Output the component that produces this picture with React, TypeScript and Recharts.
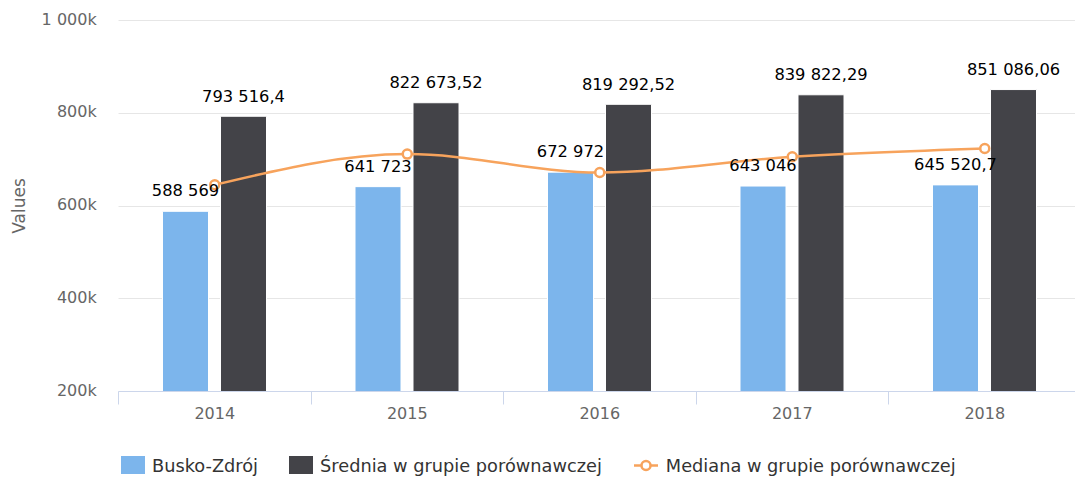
import React from 'react';
import { ComposedChart, Bar, Line, XAxis, YAxis, CartesianGrid, LabelList } from 'recharts';

const years = ['2014', '2015', '2016', '2017', '2018'];
const busko = [588569, 641723, 672972, 643046, 645520.7];
const srednia = [793516.4, 822673.52, 819292.52, 839822.29, 851086.06];
const mediana = [645700, 711900, 672200, 706100, 724000];
const yTicks = [200000, 400000, 600000, 800000, 1000000];

const seriesNames = {
  busko: 'Busko-Zdrój',
  srednia: 'Średnia w grupie porównawczej',
  mediana: 'Mediana w grupie porównawczej',
};

const COLORS = { busko: '#7cb5ec', srednia: '#434348', mediana: '#f7a35c' };

const data = years.map((y, i) => ({ year: y, busko: busko[i], srednia: srednia[i], mediana: mediana[i] }));

const FONT = '"DejaVu Sans", Verdana, sans-serif';
const CHART_W = 1090;
const CHART_H = 480;
const MARGIN = { top: 20.5, right: 9, bottom: 58.5, left: 0 };
const Y_AXIS_W = 118.5;
const X_AXIS_H = 30;
const PLOT_W = CHART_W - MARGIN.left - MARGIN.right - Y_AXIS_W;
const BAND = PLOT_W / years.length;

const group = (s: string) => s.replace(/\B(?=(\d{3})+(?!\d))/g, ' ');

const fmtLabel = (v: any) => {
  const s = String(v);
  const [int, dec] = s.split('.');
  return dec ? `${group(int)},${dec}` : group(int);
};

const fmtY = (v: number) => `${group(String(v / 1000))}k`;

const crisp = (v: number) => Math.floor(v) + 0.5;

const GridLine = (props: any) => {
  const { x1, x2, y1 } = props;
  const y = crisp(Number(y1));
  return <line x1={x1} x2={x2} y1={y} y2={y} stroke="#e6e6e6" strokeWidth={1} />;
};

const XTick = (props: any) => {
  const { x, y, payload, index } = props;
  const left = crisp(x - BAND / 2);
  const yy = crisp(y);
  return (
    <g>
      <line x1={left} x2={left} y1={yy} y2={yy + 13} stroke="#ccd6eb" strokeWidth={1} />
      {index === years.length - 1 && (
        <line x1={crisp(x + BAND / 2)} x2={crisp(x + BAND / 2)} y1={yy} y2={yy + 13} stroke="#ccd6eb" strokeWidth={1} />
      )}
      <text x={x} y={y + 27.8} textAnchor="middle" fill="#666666" fontSize={16} fontFamily={FONT}>
        {payload.value}
      </text>
    </g>
  );
};

const YTick = (props: any) => {
  const { x, y, payload } = props;
  return (
    <text x={x - 21.8} y={y + 4} textAnchor="end" fill="#666666" fontSize={16} fontFamily={FONT}>
      {fmtY(payload.value)}
    </text>
  );
};

const YTitle = (props: any) => {
  const vb = props.viewBox || {};
  const cy = (vb.y || 0) + (vb.height || 0) / 2;
  const cx = 25;
  return (
    <text
      x={cx}
      y={cy}
      transform={`rotate(-90, ${cx}, ${cy})`}
      textAnchor="middle"
      fill="#666666"
      fontSize={17}
      fontFamily={FONT}
    >
      Values
    </text>
  );
};

const makeBarLabel = (offset: number) => (props: any) => {
  const { x, y, width, value } = props;
  return (
    <text
      x={Number(x) + Number(width) / 2}
      y={Number(y) - offset}
      textAnchor="middle"
      fill="#000000"
      fontSize={16.3}
      fontFamily={FONT}
    >
      {fmtLabel(value)}
    </text>
  );
};

const legendItems = [
  { key: 'busko', type: 'rect' },
  { key: 'srednia', type: 'rect' },
  { key: 'mediana', type: 'line' },
];

const LegendSymbol = ({ type, color }: { type: string; color: string }) => (
  <svg width={24} height={18} style={{ display: 'block', flex: 'none' }}>
    {type === 'rect' ? (
      <rect x={0} y={0} width={24} height={18} fill={color} />
    ) : (
      <g>
        <line x1={0} x2={24} y1={9.5} y2={9.5} stroke={color} strokeWidth={2.5} />
        <circle cx={12} cy={9.5} r={4.5} fill="#fff" stroke={color} strokeWidth={2.5} />
      </g>
    )}
  </svg>
);

export default function App() {
  return (
    <div
      style={{
        position: 'absolute',
        left: 0,
        top: 0,
        width: 1075,
        height: 480,
        overflow: 'hidden',
        background: '#fff',
        fontFamily: FONT,
      }}
    >
      <ComposedChart
        width={CHART_W}
        height={CHART_H}
        data={data}
        margin={MARGIN}
        barGap={12}
      >
        <CartesianGrid horizontal={<GridLine />} vertical={false} />
        <XAxis
          dataKey="year"
          height={X_AXIS_H}
          axisLine={{ stroke: '#ccd6eb', strokeWidth: 1 }}
          tickLine={false}
          tickSize={0}
          tickMargin={0}
          tick={<XTick />}
          interval={0}
        />
        <YAxis
          width={Y_AXIS_W}
          domain={[200000, 1000000]}
          ticks={yTicks}
          allowDataOverflow
          axisLine={false}
          tickLine={false}
          tickSize={0}
          tickMargin={0}
          tick={<YTick />}
          label={<YTitle />}
        />
        <Bar
          dataKey="busko"
          name={seriesNames.busko}
          fill={COLORS.busko}
          stroke="#ffffff"
          strokeWidth={1}
          barSize={46}
          isAnimationActive={false}
        >
          <LabelList dataKey="busko" content={makeBarLabel(15)} />
        </Bar>
        <Bar
          dataKey="srednia"
          name={seriesNames.srednia}
          fill={COLORS.srednia}
          stroke="#ffffff"
          strokeWidth={1}
          barSize={46}
          isAnimationActive={false}
        >
          <LabelList dataKey="srednia" content={makeBarLabel(14.5)} />
        </Bar>
        <Line
          type="monotone"
          dataKey="mediana"
          name={seriesNames.mediana}
          stroke={COLORS.mediana}
          strokeWidth={2.5}
          dot={{ r: 4.5, fill: '#ffffff', stroke: COLORS.mediana, strokeWidth: 2.5 }}
          activeDot={false}
          isAnimationActive={false}
        />
      </ComposedChart>
      <div
        style={{
          position: 'absolute',
          left: 121,
          top: 455.7,
          display: 'flex',
          alignItems: 'flex-start',
          fontSize: 17.75,
          lineHeight: '18px',
          color: '#333333',
          whiteSpace: 'nowrap',
        }}
      >
        {legendItems.map((it, i) => (
          <div
            key={it.key}
            style={{ display: 'flex', alignItems: 'flex-start', marginLeft: i === 0 ? 0 : it.type === 'line' ? 32 : 31 }}
          >
            <LegendSymbol type={it.type} color={(COLORS as any)[it.key]} />
            <span style={{ marginLeft: it.type === 'line' ? 8 : 7, position: 'relative', top: 1.5 }}>
              {(seriesNames as any)[it.key]}
            </span>
          </div>
        ))}
      </div>
    </div>
  );
}
